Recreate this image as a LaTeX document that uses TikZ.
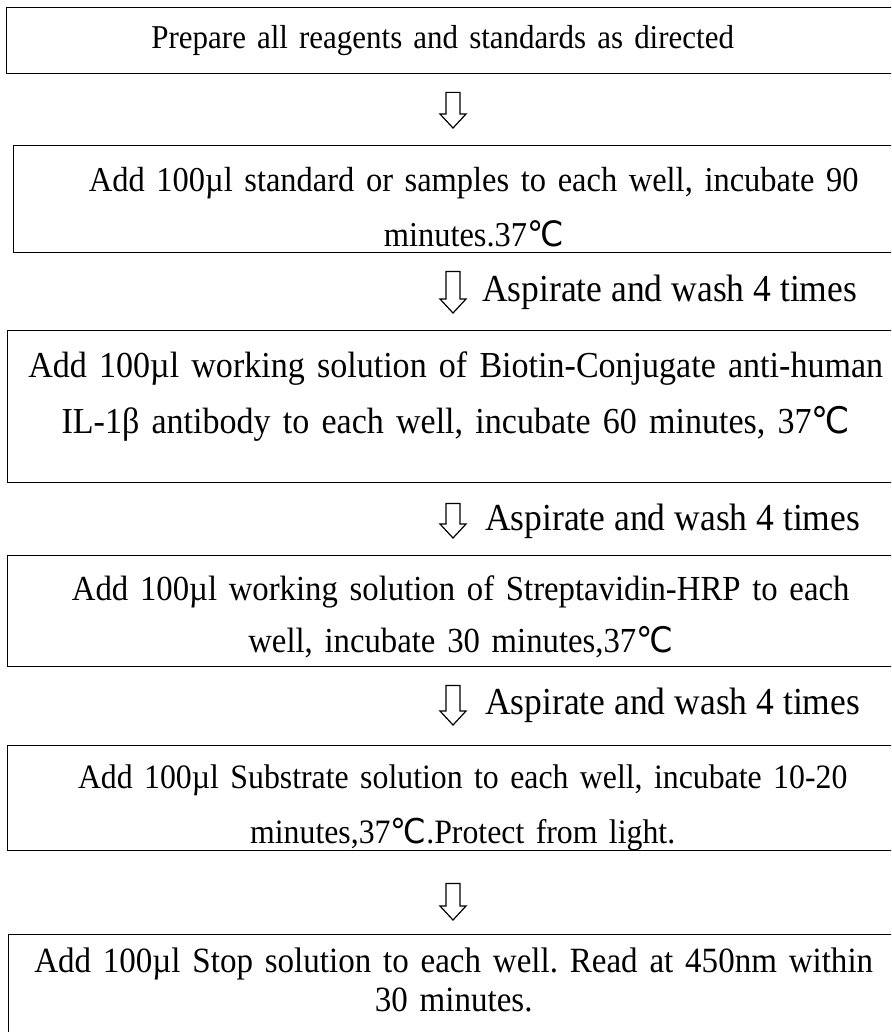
\documentclass[tikz,border=0pt]{standalone}
\usepackage{fontspec}
\setmainfont{Liberation Serif}[FakeStretch=0.93]
\newfontfamily\celsiusfont{DejaVu Sans}[FakeStretch=0.93]
\usetikzlibrary{calc}
\frenchspacing

\newcommand\degC{{\celsiusfont\char"2103}}

\tikzset{
    stepbox/.style={draw, line width=1.4pt, anchor=north west, inner sep=0pt,
        align=center, font=\fontsize{35}{55}\selectfont},
    hollow/.style={draw, line width=1.2pt, line join=miter},
    washnote/.style={anchor=west, inner sep=0pt, font=\fontsize{38.2}{40}\selectfont},
}

% hollow down arrow between two boxes, #3 and #4 are the gaps
\newcommand\blockarrow[4]{%
    \draw[hollow] let \p1=($(#1.south -| colx)+(0,#3)$), \p2=($(#2.north -| colx)+(0,-#4)$) in
        (\x1-7pt,\y1) -- (\x1+7pt,\y1) -- (\x2+7pt,\y2+14pt) -- (\x2+13pt,\y2+14pt)
        -- (\p2) -- (\x2-13pt,\y2+14pt) -- (\x2-7pt,\y2+14pt) -- cycle;
}

\begin{document}
\begin{tikzpicture}[x=1pt, y=-1pt]
    \useasboundingbox (0,0) rectangle (891,1032);
    \clip (0,0) rectangle (891,1032);
    \coordinate (colx) at (453,0);

    \node[stepbox, text width=888pt, text height=41pt, text depth=25pt,
        font=\fontsize{33.3}{55}\selectfont] (prep) at (6,7)
        {\hspace*{-16pt}Prepare all reagents and standards as directed};
    \node[stepbox, text width=920pt, text height=46pt, text depth=61pt,
        font=\fontsize{34.9}{55}\selectfont] (std) at (13,145)
        {Add 100µl standard or samples to each well, incubate 90\\ minutes.37\degC};
    \node[stepbox, text width=896pt, text height=47pt, text depth=105pt,
        font=\fontsize{36.6}{56}\selectfont] (biotin) at (7,330)
        {Add 100µl working solution of Biotin-Conjugate anti-human\\
         IL-1β antibody to each well, incubate 60 minutes, 37\degC};
    \node[stepbox, text width=906pt, text height=45pt, text depth=66pt,
        font=\fontsize{35.2}{52}\selectfont] (hrp) at (7,555)
        {Add 100µl working solution of Streptavidin-HRP to each\\
         well, incubate 30 minutes,37\degC};
    \node[stepbox, text width=910pt, text height=43pt, text depth=62pt,
        font=\fontsize{34.2}{55}\selectfont] (subst) at (7,745)
        {Add 100µl Substrate solution to each well, incubate 10-20\\
         minutes,37\degC.Protect from light.};
    \node[stepbox, text width=890pt, text height=38pt, text depth=120pt,
        font=\fontsize{35.5}{39}\selectfont] (stop) at (8,934)
        {Add 100µl Stop solution to each well. Read at 450nm within\\ 30 minutes.};

    \blockarrow{prep}{std}{18}{17}
    \blockarrow{std}{biotin}{18}{17}
    \blockarrow{biotin}{hrp}{20}{17}
    \blockarrow{hrp}{subst}{18}{20}
    \blockarrow{subst}{stop}{32}{14}

    \node[washnote] (wash1) at ($(std.south -| colx)+(29,39)$) {Aspirate and wash 4 times};
    \node[washnote] (wash2) at ($(biotin.south -| colx)+(32,38)$) {Aspirate and wash 4 times};
    \node[washnote] (wash3) at ($(hrp.south -| colx)+(32,38)$) {Aspirate and wash 4 times};
\end{tikzpicture}
\end{document}
